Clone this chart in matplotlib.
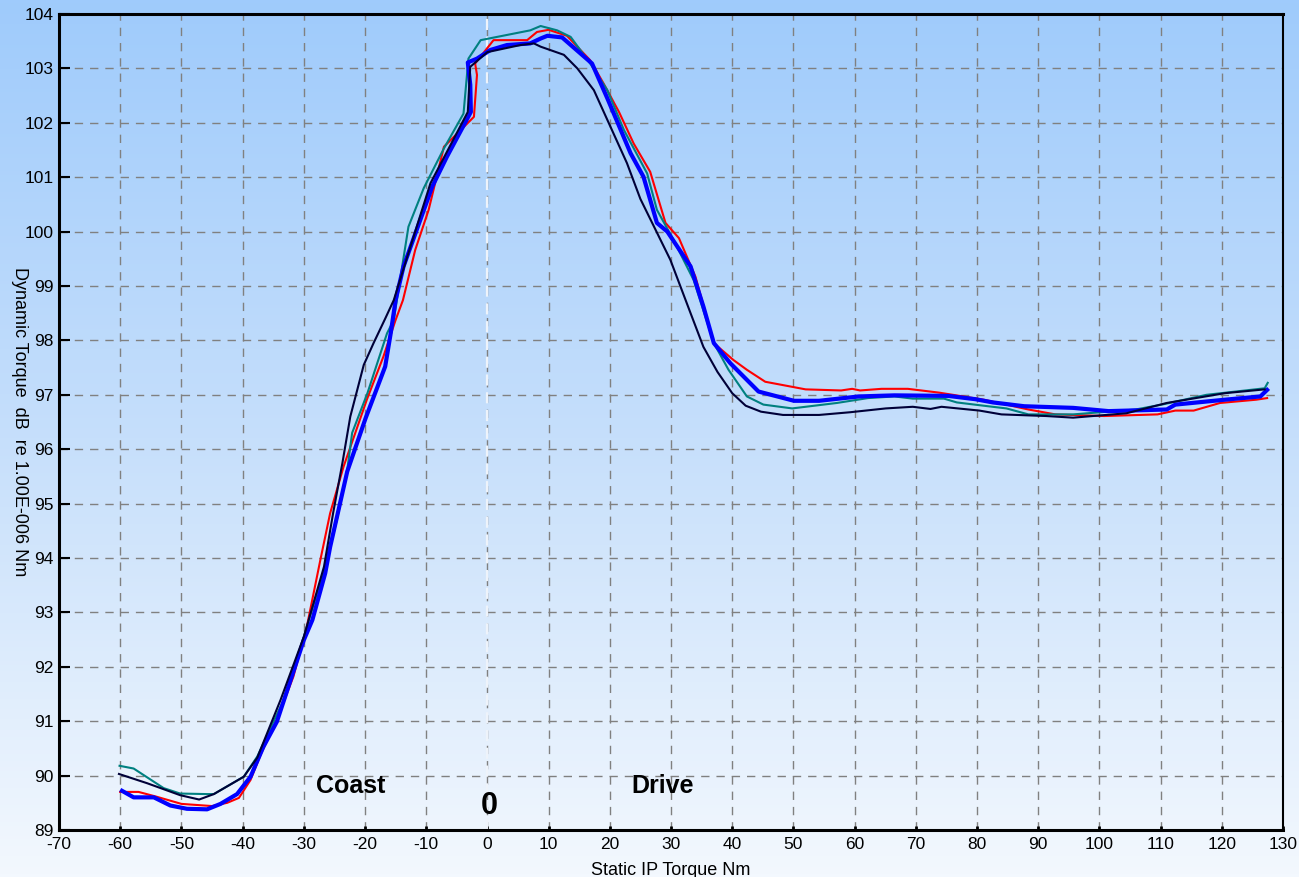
import numpy as np
import matplotlib.pyplot as plt
from matplotlib.colors import LinearSegmentedColormap

# static IP torque (Nm) / dynamic torque (dB)
red_x = [-60, -57, -54, -50, -45, -42.5, -40.6, -38.7, -37, -34.4, -31.7, -29.5, -27.3, -25.7, -23.5,
         -19.7, -17, -15, -13.8, -11.8, -9.6, -7.1, -2.2, -1.7, -2.0, 1, 6.5, 8.1, 10, 13, 16.8, 19,
         21.5, 23.9, 26.6, 29.1, 31.3, 34, 37, 40.2, 42.4, 45.4, 52, 57.8, 59.6, 60.9, 64.4, 68.7,
         73.8, 81.1, 88.4, 92.8, 100.8, 109.5, 112.4, 115.4, 119.7, 125.6, 127.4]
red_y = [89.70, 89.70, 89.61, 89.48, 89.44, 89.50, 89.59, 89.92, 90.40, 91.02, 91.82, 92.74, 93.96,
         94.82, 95.68, 96.91, 97.70, 98.375, 98.74, 99.66, 100.4, 101.56, 102.11, 102.88, 103.09,
         103.52, 103.52, 103.67, 103.71, 103.6, 103.15, 102.72, 102.2, 101.62, 101.1, 100.16, 99.88,
         99.17, 97.95, 97.64, 97.46, 97.24, 97.10, 97.08, 97.11, 97.08, 97.11, 97.11, 97.04, 96.91,
         96.73, 96.64, 96.61, 96.64, 96.71, 96.71, 96.85, 96.91, 96.94]

teal_x = [-60.1, -57.8, -52.9, -50.2, -45.8, -44.7, -39.8, -37.6, -33.3, -30, -26.2, -24.6, -22.9,
          -22.1, -19.6, -16.4, -15.3, -12.9, -10.4, -7.1, -3.9, -3.1, -1.1, 7.0, 8.7, 11.4, 13.6,
          16.8, 19.6, 22.3, 26.1, 27.7, 30.4, 33.7, 37.0, 39.4, 42.4, 45.1, 49.8, 57.1, 62.2, 66.5,
          69.5, 74.6, 76.7, 81.8, 84.8, 88.4, 95.7, 105.9, 110.2, 117.5, 127, 127.5]
teal_y = [90.18, 90.13, 89.77, 89.67, 89.66, 89.66, 89.98, 90.35, 91.39, 92.55, 93.96, 94.70, 95.62,
          96.3, 97.03, 98.13, 98.375, 100.09, 100.8, 101.53, 102.17, 103.18, 103.52, 103.7, 103.78,
          103.7, 103.58, 103.09, 102.6, 101.87, 101.07, 100.4, 99.85, 99.11, 97.95, 97.46, 96.97,
          96.82, 96.75, 96.85, 96.94, 96.97, 96.93, 96.93, 96.86, 96.79, 96.75, 96.64, 96.64, 96.73,
          96.82, 97.0, 97.12, 97.22]

navy_x = [-60.2, -55.6, -50.2, -47.1, -44.7, -39.8, -37.6, -33.8, -30, -26.7, -25.2, -23.7, -22.4,
          -20.2, -18.6, -16.7, -15.3, -12.5, -9.3, -3.2, -2.8, 0, 5.4, 7.6, 8.7, 12.5, 14.7, 17.4,
          20.1, 22.8, 25.0, 29.9, 33.2, 35.3, 37.6, 40, 42.2, 44.7, 48.3, 54.2, 59.3, 65.1, 69.5,
          72.4, 74.2, 80.4, 84, 91.3, 95.7, 100, 104.4, 111, 120.5, 127]
navy_y = [90.03, 89.86, 89.64, 89.56, 89.66, 89.98, 90.33, 91.39, 92.55, 93.84, 94.83, 95.74, 96.6,
          97.55, 97.95, 98.4, 98.74, 99.75, 100.89, 102.2, 103.03, 103.3, 103.43, 103.46, 103.4,
          103.25, 103.0, 102.6, 101.93, 101.26, 100.6, 99.48, 98.5, 97.88, 97.42, 97.03, 96.8, 96.69,
          96.63, 96.63, 96.68, 96.75, 96.78, 96.74, 96.78, 96.71, 96.64, 96.61, 96.58, 96.62, 96.66,
          96.85, 97.03, 97.1]

blue_x = [-59.7, -57.8, -54.5, -51.8, -49.1, -45.8, -43.6, -40.9, -38.7, -36.6, -34.4, -30, -28.6,
          -26.5, -25.7, -22.9, -19.9, -16.7, -15.8, -15.0, -13.7, -9.0, -6.6, -2.7, -2.8, -3.2, -1.7,
          0.5, 3.2, 7.0, 8.7, 9.8, 12.2, 17.1, 19.6, 23.4, 25.5, 27.7, 29.4, 33.2, 35.3, 37.0, 39.7,
          44.3, 50.1, 54.2, 60.7, 66.5, 75.3, 79.7, 82.6, 87.7, 95.7, 101.5, 111, 112.4, 120.5,
          126.3, 127.4]
blue_y = [89.72, 89.60, 89.60, 89.45, 89.39, 89.38, 89.48, 89.66, 89.98, 90.53, 90.99, 92.49, 92.86,
          93.72, 94.2, 95.59, 96.57, 97.52, 98.13, 98.74, 99.36, 100.83, 101.38, 102.2, 102.7, 103.11,
          103.18, 103.34, 103.43, 103.46, 103.55, 103.6, 103.57, 103.09, 102.45, 101.44, 101.01,
          100.16, 100.0, 99.36, 98.62, 97.95, 97.58, 97.06, 96.89, 96.89, 96.97, 96.99, 96.98, 96.92,
          96.86, 96.79, 96.76, 96.70, 96.73, 96.82, 96.91, 96.97, 97.09]

xticks = np.arange(-70, 131, 10)
yticks = np.arange(89, 105, 1)

plt.rcParams['font.family'] = ['Liberation Sans', 'DejaVu Sans']
plt.rcParams['axes.unicode_minus'] = False

fig = plt.figure(figsize=(12.99, 8.77), dpi=100)

# blue-to-white gradient behind everything
bg = fig.add_axes([0, 0, 1, 1], zorder=-10)
grad = np.linspace(0, 1, 256).reshape(-1, 1)
cmap = LinearSegmentedColormap.from_list('bg', ['#9fcbfc', '#c6dffb', '#f3f8fe'])
bg.imshow(grad, aspect='auto', cmap=cmap, extent=[0, 1, 0, 1])
bg.axis('off')

ax = fig.add_axes([0.0454, 0.0536, 0.9423, 0.9304])
ax.set_facecolor('none')

ax.plot(red_x, red_y, c='#ff0000', lw=1.5, zorder=3)
ax.plot(teal_x, teal_y, c='#008080', lw=1.5, zorder=3)
ax.plot(blue_x, blue_y, c='#0000ff', lw=3, zorder=4)
ax.plot(navy_x, navy_y, c='#000038', lw=1.5, zorder=5)

ax.set_xlim(-70, 130)
ax.set_ylim(89, 104)
ax.set_xticks(xticks)
ax.set_yticks(yticks)
ax.grid(True, color='#808080', ls=(0, (6, 5)), lw=1)
ax.axvline(0, color='#eef3fa', ls=(0, (5, 3)), lw=1.6, zorder=2)
ax.tick_params(axis='both', direction='in', labelsize=12.5, colors='black')
ax.tick_params(axis='y', length=8, width=1.5, pad=4)
ax.tick_params(axis='x', length=3, width=2, pad=5)
for s in ['left', 'bottom', 'top']:
    ax.spines[s].set_linewidth(2.2)
ax.spines['right'].set_linewidth(1.5)

ax.set_xlabel('Static IP Torque Nm', fontsize=13, labelpad=7)
ax.set_ylabel('Dynamic Torque  dB  re 1.00E-006 Nm', fontsize=13, rotation=-90,
              ha='center', va='center', rotation_mode='default')
ax.yaxis.set_label_coords(-0.032, 0.5)

ax.text(-22.3, 89.8, 'Coast', fontsize=18, fontweight='bold', ha='center', va='center')
ax.text(28.6, 89.8, 'Drive', fontsize=18, fontweight='bold', ha='center', va='center')
ax.text(0.3, 89.44, '0', fontsize=22, fontweight='bold', ha='center', va='center',
        family=['Liberation Sans Narrow', 'Liberation Sans'])

fig.savefig('out.png', dpi=100)
